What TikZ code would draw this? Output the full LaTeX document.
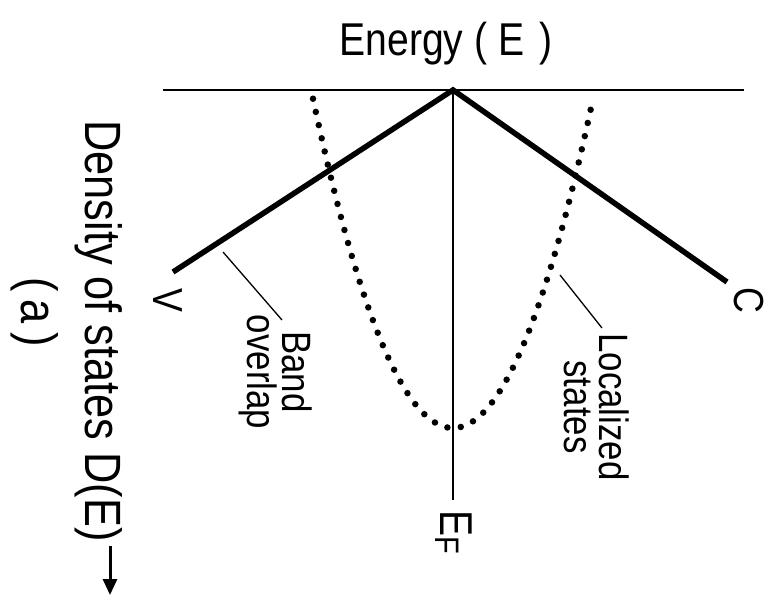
\documentclass[tikz,border=0pt]{standalone}
\usepackage{fontspec}
\usetikzlibrary{arrows.meta,calc,positioning}
\newfontfamily\figfont[FakeStretch=0.85]{Liberation Sans}
\newcommand{\figsize}[2]{\fontsize{#1}{#2}\selectfont}
\tikzset{
  bandline/.style={line width=5.5pt},
  axisline/.style={line width=2pt},
  leader/.style={line width=1.3pt},
  locdots/.style={line width=6.5pt,line cap=round,dash pattern=on 0pt off 13.5pt},
  biglabel/.style={font=\figfont\figsize{46}{50},inner sep=0pt},
  sidelabel/.style={font=\figfont\figsize{42}{46},inner sep=0pt,rotate=-90},
  notelabel/.style={font=\figfont\figsize{41}{35},inner sep=0pt,rotate=-90,align=center},
  dosarrow/.style={-{Triangle[length=16pt,width=14pt]},line width=3pt}
}
\begin{document}
\begin{tikzpicture}[x=1pt,y=-1pt]
  \useasboundingbox (0,0) rectangle (773,605);
  % frame points
  \coordinate (apex) at (453,90);
  \coordinate (axisl) at (163,90);
  \coordinate (axisr) at (744,90);
  \coordinate (vend) at (173,272);
  \coordinate (cend) at (727,282);
  \coordinate (bandpt) at (223,252);
  \coordinate (bandtxt) at (282,320);
  \coordinate (locpt) at (560,275);
  \coordinate (loctxt) at (602,328);
  \coordinate (dostip) at (110,595);

  % labels
  \node[biglabel,anchor=base] (energy) at (446,55) {Energy ( E\,\,)};
  \node[biglabel,font=\figfont\figsize{51}{55},rotate=-90,anchor=base] (dos) at (85,331) {Density of states D(E)};
  \node[biglabel,font=\figfont\figsize{51}{55},rotate=-90] (panel) at (35,312) {(\,a\,)};
  \node[sidelabel] (vlbl) at (168,300) {V};
  \node[sidelabel] (clbl) at (749,300) {C};
  \node[notelabel] (bandlbl) at (276,372) {Band\\overlap};
  \node[notelabel] (loclbl) at (597,407) {Localized\\states};
  \node[sidelabel,anchor=base west,font=\figfont\figsize{46}{50}] (eflbl) at (440,510)
    {E\raisebox{-5pt}{\figsize{34}{34}F}};

  % energy axis and Fermi level
  \draw[axisline] (axisl) -- (axisr);
  \draw[axisline,shorten >=10pt] (apex) -- (apex |- eflbl.west);

  % band edges
  \draw[bandline] (vend) -- (apex) -- (cend);

  % localized states
  \draw[locdots] plot[domain=-140:140,samples=113] ({453+\x},{428-1.68*(\x/10)*(\x/10)});

  % leaders
  \draw[leader] (bandpt) -- (bandtxt);
  \draw[leader] (locpt) -- (loctxt);

  % density arrow
  \draw[dosarrow] ($(dos.east -| dostip)+(0,4)$) -- (dostip);
\end{tikzpicture}
\end{document}
